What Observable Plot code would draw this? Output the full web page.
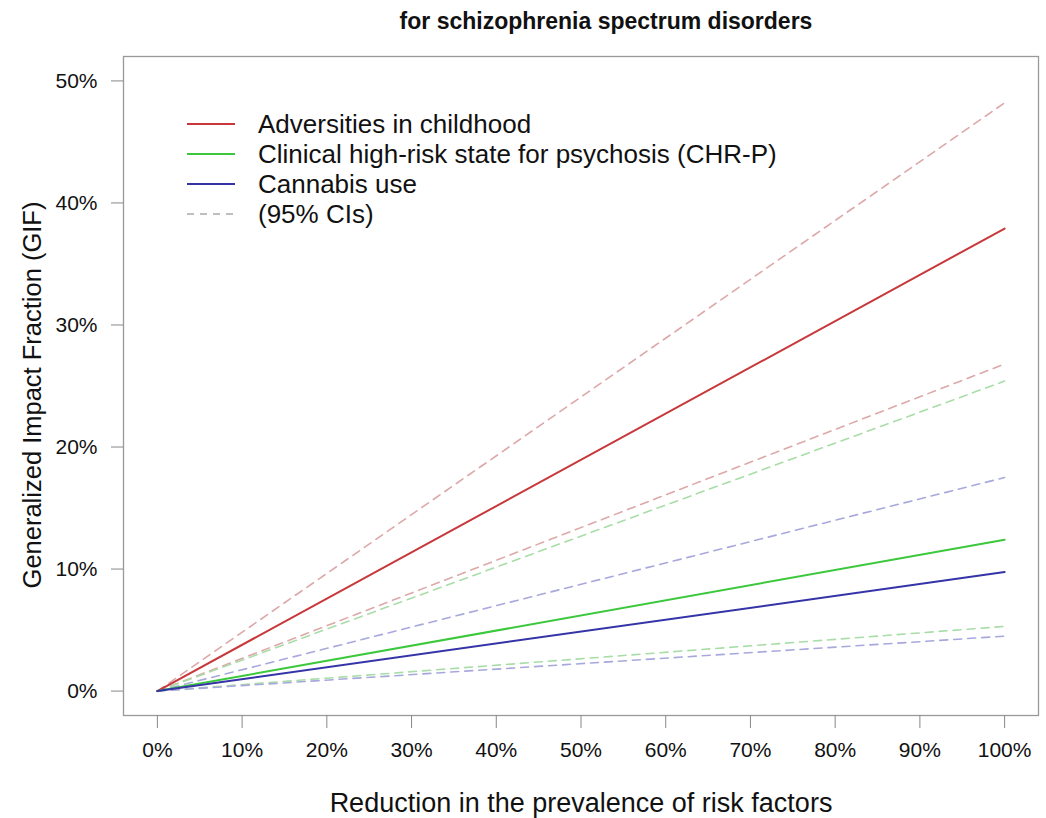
<!DOCTYPE html>
<html>
<head>
<meta charset="utf-8">
<script src="https://cdn.jsdelivr.net/npm/d3@7"></script>
<script src="https://cdn.jsdelivr.net/npm/@observablehq/plot@0.6"></script>
<style>
  html, body { margin: 0; padding: 0; background: #fff; }
  #wrap { position: relative; width: 1046px; height: 818px; font-family: "Liberation Sans", Arial, sans-serif; }
  #title { box-sizing: border-box; width: 1046px; height: 40px; line-height: 43px; padding-left: 174px; padding-right: 8px;
           text-align: center; font-weight: bold; font-size: 23px; color: #111; }
  #legend { position: absolute; left: 187px; top: 109px; font-size: 26px; color: #111; }
  #legend .row { height: 30px; line-height: 30px; white-space: nowrap; display: flex; align-items: center; }
  #legend svg { margin-right: 23px; }
  #chart svg { display: block; overflow: visible; }
</style>
</head>
<body>
<div id="wrap">
  <div id="title"></div>
  <div id="chart"></div>
  <div id="legend"></div>
</div>
<script>
// ---- data ----
const titleText = "for schizophrenia spectrum disorders";
const xLabel = "Reduction in the prevalence of risk factors";
const yLabel = "Generalized Impact Fraction (GIF)";

const reduction = [0, 1];                 // share of risk factor prevalence removed
const adversitiesGIF   = [0, 0.379];
const adversitiesLower = [0, 0.268];
const adversitiesUpper = [0, 0.482];
const chrpGIF   = [0, 0.124];
const chrpLower = [0, 0.053];
const chrpUpper = [0, 0.254];
const cannabisGIF   = [0, 0.0975];
const cannabisLower = [0, 0.045];
const cannabisUpper = [0, 0.175];

const seriesNames = ["Adversities in childhood", "Clinical high-risk state for psychosis (CHR-P)", "Cannabis use"];
const ciLabel = "(95% CIs)";
const solidColors = ["#C8383A", "#3CC83C", "#3434A8"];
const dashColors  = ["#DDA8A8", "#A8DDA8", "#A8A8DD"];

const xTicks = [0, 0.1, 0.2, 0.3, 0.4, 0.5, 0.6, 0.7, 0.8, 0.9, 1.0];
const yTicks = [0, 0.1, 0.2, 0.3, 0.4, 0.5];

// ---- build tidy rows ----
const est = [adversitiesGIF, chrpGIF, cannabisGIF];
const lo  = [adversitiesLower, chrpLower, cannabisLower];
const hi  = [adversitiesUpper, chrpUpper, cannabisUpper];
const solidRows = [], dashRows = [];
seriesNames.forEach((name, i) => {
  reduction.forEach((r, j) => {
    solidRows.push({series: name, x: r, y: est[i][j]});
    dashRows.push({series: name + " lower", s: name, x: r, y: lo[i][j]});
    dashRows.push({series: name + " upper", s: name, x: r, y: hi[i][j]});
  });
});

const pct = d => Math.round(d * 100) + "%";

const chart = Plot.plot({
  width: 1046,
  height: 778,
  marginTop: 16,
  marginLeft: 123,
  marginRight: 8,
  marginBottom: 103,
  style: {fontFamily: "'Liberation Sans', Arial, sans-serif", color: "#111", background: "#fff", overflow: "visible"},
  x: {domain: [-0.04, 1.04]},
  y: {domain: [-0.02, 0.52]},
  marks: [
    Plot.frame({stroke: "#999", strokeWidth: 1.3}),
    Plot.axisY({ticks: yTicks, tickFormat: pct, tickSize: 12, tickPadding: 14, fontSize: 21, stroke: "#888", label: null}),
    Plot.axisY({ticks: [], label: yLabel, labelAnchor: "center", labelArrow: "none", labelOffset: 101, fontSize: 25.5}),
    Plot.axisX({ticks: xTicks, tickFormat: pct, tickSize: 13, tickPadding: 14, fontSize: 21, stroke: "#888", label: null}),
    Plot.axisX({ticks: [], label: xLabel, labelAnchor: "center", labelArrow: "none", labelOffset: 96, fontSize: 27}),
    Plot.line(dashRows, {x: "x", y: "y", z: "series",
      stroke: d => dashColors[seriesNames.indexOf(d.s)], strokeWidth: 1.6, strokeDasharray: "8,6"}),
    Plot.line(solidRows, {x: "x", y: "y", z: "series",
      stroke: d => solidColors[seriesNames.indexOf(d.series)], strokeWidth: 2})
  ]
});
// nudge the y-axis title slightly down, as in the reference
chart.querySelectorAll("text").forEach(t => {
  if (t.textContent.trim() === yLabel) {
    const g = document.createElementNS("http://www.w3.org/2000/svg", "g");
    g.setAttribute("transform", "translate(0,9)");
    t.parentNode.insertBefore(g, t);
    g.appendChild(t);
  }
});
document.getElementById("chart").appendChild(chart);
document.getElementById("title").textContent = titleText;

// ---- legend ----
const legend = document.getElementById("legend");
const entries = seriesNames.map((n, i) => ({label: n, color: solidColors[i], dash: null, w: 2}))
  .concat([{label: ciLabel, color: "#AAAAAA", dash: "7,6", w: 1.6}]);
entries.forEach(e => {
  const row = document.createElement("div");
  row.className = "row";
  row.innerHTML = `<svg width="48" height="30"><line x1="0" x2="48" y1="15" y2="15" stroke="${e.color}" stroke-width="${e.w}" ${e.dash ? `stroke-dasharray="${e.dash}"` : ""}/></svg><span></span>`;
  row.querySelector("span").textContent = e.label;
  legend.appendChild(row);
});
</script>
</body>
</html>
